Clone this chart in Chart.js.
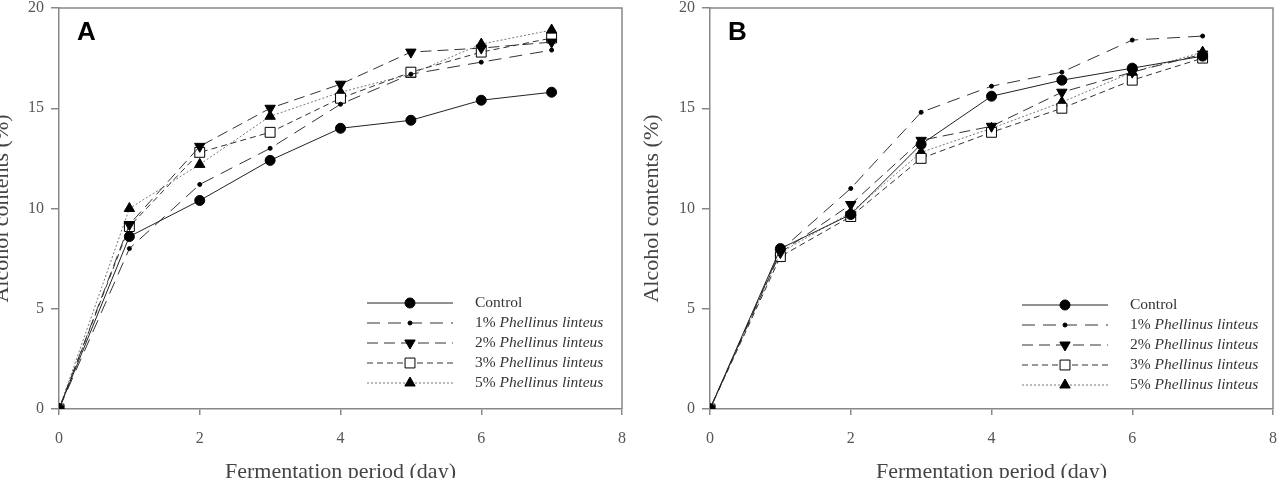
<!DOCTYPE html>
<html>
<head>
<meta charset="utf-8">
<script src="https://cdn.jsdelivr.net/npm/chart.js@4.4.1/dist/chart.umd.min.js"></script>
<style>
body { margin: 0; background: #fff; width: 1281px; height: 478px; overflow: hidden; position: relative; }
canvas { position: absolute; top: 0; }
#chartA { left: 0; }
#chartB { left: 630px; }
</style>
</head>
<body>
<canvas id="chartA" width="630" height="478"></canvas>
<canvas id="chartB" width="651" height="478"></canvas>
<script>
/* ================= DATA ================= */
const days = [0, 1, 2, 3, 4, 5, 6, 7];
const seriesNames = ["Control", "1%", "2%", "3%", "5%"];
const xTicks = [0, 2, 4, 6, 8];
const yTicks = [0, 5, 10, 15, 20];

// panel A
const controlA = [0, 8.6, 10.4, 12.4, 14.0, 14.4, 15.4, 15.8];
const p1A = [0, 8.0, 11.2, 13.0, 15.2, 16.7, 17.3, 17.9];
const p2A = [0, 9.2, 13.1, 15.0, 16.2, 17.8, 18.0, 18.3];
const p3A = [0, 9.1, 12.8, 13.8, 15.5, 16.8, 17.8, 18.5];
const p5A = [0, 10.0, 12.2, 14.6, 15.8, 16.7, 18.2, 18.9];

// panel B
const controlB = [0, 8.0, 9.7, 13.2, 15.6, 16.4, 17.0, 17.6];
const p1B = [0, 7.9, 11.0, 14.8, 16.1, 16.8, 18.4, 18.6];
const p2B = [0, 7.8, 10.2, 13.4, 14.1, 15.8, 16.8, 17.7];
const p3B = [0, 7.6, 9.6, 12.5, 13.8, 15.0, 16.4, 17.5];
const p5B = [0, 7.8, 9.8, 12.8, 14.0, 15.3, 16.8, 17.8];

/* ================= STYLES ================= */
const styles = [
    { dash: [], point: "circle", radius: 5, fill: "#000", color: "#222" },
    { dash: [13, 8], point: "circle", radius: 2, fill: "#000", color: "#333" },
    { dash: [11, 6], point: "triangle", rotation: 180, radius: 6, fill: "#000", color: "#333" },
    { dash: [6, 4], point: "rect", radius: 7, fill: "#fff", color: "#333" },
    { dash: [2, 2], point: "triangle", radius: 6, fill: "#000", color: "#777" }
];

function makeSets(list) {
    return list.map((vals, i) => {
        const s = styles[i];
        return {
            label: seriesNames[i],
            data: days.map((d, k) => ({ x: d, y: vals[k] })),
            borderColor: s.color,
            borderWidth: 1,
            borderDash: s.dash,
            pointStyle: s.point,
            pointRotation: s.rotation || 0,
            pointRadius: s.radius,
            pointBackgroundColor: s.fill,
            pointBorderColor: "#000",
            pointBorderWidth: 1,
            tension: 0
        };
    });
}

/* ================= PLUGIN: frame, titles, legend ================= */
const serif = "'Liberation Serif', 'Times New Roman', serif";
const extras = {
    id: "extras",
    afterDraw(chart, args, opts) {
        const ctx = chart.ctx;
        const a = chart.chartArea;
        ctx.save();

        // top / right frame
        ctx.strokeStyle = "#888";
        ctx.lineWidth = 1.5;
        ctx.beginPath();
        ctx.moveTo(a.left, a.top);
        ctx.lineTo(a.right, a.top);
        ctx.lineTo(a.right, a.bottom);
        ctx.stroke();

        // panel letter
        ctx.fillStyle = "#000";
        ctx.font = "bold 26px 'Liberation Sans', Arial, sans-serif";
        ctx.textBaseline = "middle";
        ctx.textAlign = "left";
        ctx.fillText(opts.letter, a.left + 18, 33);

        // axis titles
        ctx.fillStyle = "#444";
        ctx.font = "22px " + serif;
        ctx.textAlign = "center";
        ctx.textBaseline = "alphabetic";
        ctx.fillText("Fermentation period (day)", (a.left + a.right) / 2, 478);
        ctx.save();
        ctx.translate(opts.yTitleX, (a.top + a.bottom) / 2);
        ctx.rotate(-Math.PI / 2);
        ctx.fillText("Alcohol contents (%)", 0, 0);
        ctx.restore();

        // legend
        const lg = opts.legend;
        chart.data.datasets.forEach((ds, i) => {
            const y = lg.y0 + i * lg.dy;
            ctx.strokeStyle = ds.borderColor;
            ctx.lineWidth = 1;
            ctx.setLineDash(ds.borderDash);
            ctx.beginPath();
            ctx.moveTo(lg.x0, y);
            ctx.lineTo(lg.x1, y);
            ctx.stroke();
            ctx.setLineDash([]);
            ctx.fillStyle = ds.pointBackgroundColor;
            ctx.strokeStyle = "#000";
            Chart.helpers.drawPoint(ctx, {
                pointStyle: ds.pointStyle,
                rotation: ds.pointRotation,
                radius: ds.pointRadius,
                borderWidth: 1
            }, (lg.x0 + lg.x1) / 2, y);

            ctx.fillStyle = "#333";
            ctx.textAlign = "left";
            ctx.textBaseline = "middle";
            ctx.font = "15.5px " + serif;
            if (i === 0) {
                ctx.fillText(ds.label, lg.xt, y);
            } else {
                const head = ds.label + " ";
                ctx.fillText(head, lg.xt, y);
                const w = ctx.measureText(head).width;
                ctx.font = "italic 15.5px " + serif;
                ctx.fillText("Phellinus linteus", lg.xt + w, y);
            }
        });
        ctx.restore();
    }
};

/* ================= CHART ================= */
function buildChart(id, list, letter, yWidth, rightPad, yTitleX, legend) {
    const tickFont = { family: serif, size: 16 };
    return new Chart(document.getElementById(id), {
        type: "line",
        data: { datasets: makeSets(list) },
        options: {
            responsive: false,
            animation: false,
            layout: { padding: { top: 3, right: rightPad, left: 0, bottom: 0 } },
            scales: {
                x: {
                    type: "linear",
                    min: 0, max: 8,
                    afterBuildTicks: s => { s.ticks = xTicks.map(v => ({ value: v })); },
                    afterFit: s => { s.height = 69; s.paddingLeft = 0; s.paddingRight = 0; },
                    grid: { drawOnChartArea: false, tickLength: 6, color: "#888", lineWidth: 1.5 },
                    border: { color: "#888", width: 1.5 },
                    ticks: { color: "#555", font: tickFont, padding: 14 }
                },
                y: {
                    min: 0, max: 20,
                    afterBuildTicks: s => { s.ticks = yTicks.map(v => ({ value: v })); },
                    afterFit: s => { s.width = yWidth; s.paddingTop = 0; s.paddingBottom = 0; },
                    grid: { drawOnChartArea: false, tickLength: 8, color: "#888", lineWidth: 1.5 },
                    border: { color: "#888", width: 1.5 },
                    ticks: { color: "#555", font: tickFont, padding: 7 }
                }
            },
            plugins: {
                legend: { display: false },
                tooltip: { enabled: false },
                extras: { letter: letter, yTitleX: yTitleX, legend: legend }
            }
        },
        plugins: [extras]
    });
}

buildChart("chartA", [controlA, p1A, p2A, p3A, p5A], "A", 59, 7, 8,
    { x0: 367, x1: 453, xt: 475, y0: 303, dy: 20 });
buildChart("chartB", [controlB, p1B, p2B, p3B, p5B], "B", 80, 8, 28,
    { x0: 392, x1: 478, xt: 500, y0: 305, dy: 20 });
</script>
</body>
</html>
